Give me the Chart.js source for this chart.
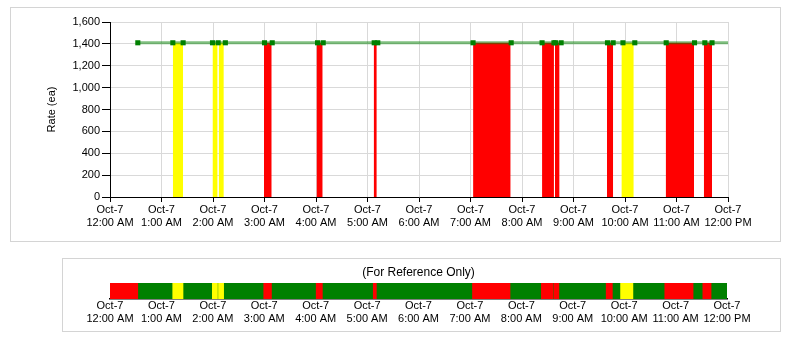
<!DOCTYPE html>
<html>
<head>
<meta charset="utf-8">
<script src="https://cdn.jsdelivr.net/npm/chart.js@4"></script>
<style>
  body { margin: 0; background: #fff; width: 791px; height: 339px; position: relative; overflow: hidden; }
  .panel { position: absolute; border: 1px solid #d4d4d4; background: #fff; }
  #ratePanel { left: 10px; top: 7px; width: 769px; height: 233px; }
  #stripPanel { left: 62px; top: 258px; width: 717px; height: 72px; }
  canvas { display: block; }
</style>
</head>
<body>
<div class="panel" id="ratePanel"><canvas id="rateChart" width="769" height="233"></canvas></div>
<div class="panel" id="stripPanel"><canvas id="stripChart" width="717" height="72"></canvas></div>
<script>
// hour axis, 0 = 12:00 AM
const dayLabel = 'Oct-7';
const hourLabels = ['12:00 AM', '1:00 AM', '2:00 AM', '3:00 AM', '4:00 AM', '5:00 AM', '6:00 AM',
  '7:00 AM', '8:00 AM', '9:00 AM', '10:00 AM', '11:00 AM', '12:00 PM'];
const rateTicks = [0, 200, 400, 600, 800, 1000, 1200, 1400, 1600];

// production rate while running
const rate = 1410;
const runStart = 0.54;
const runEnd = 12;

// logged rate samples
const markerTimes = [0.54, 1.22, 1.42, 1.99, 2.10, 2.24, 3.00, 3.15, 4.03, 4.14, 5.13, 5.20,
  7.05, 7.79, 8.39, 8.62, 8.65, 8.76, 9.66, 9.77, 9.96, 10.19, 10.80, 11.35, 11.55, 11.69];

// stoppages
const stopStart = [1.22, 1.99, 2.11, 2.99, 4.01, 5.12, 7.05, 8.39, 8.64, 9.65, 9.93, 10.79, 11.53];
const stopEnd   = [1.42, 2.09, 2.21, 3.14, 4.13, 5.18, 7.78, 8.62, 8.73, 9.77, 10.17, 11.34, 11.69];
const stopType  = ['idle', 'idle', 'idle', 'down', 'down', 'down', 'down', 'down', 'down', 'down', 'idle', 'down', 'down'];

const stateColor = { run: '#008000', down: '#ff0000', idle: '#ffff00' };

Chart.defaults.font.family = 'Arial, "Liberation Sans", sans-serif';
Chart.defaults.font.size = 11;
Chart.defaults.color = '#000';
Chart.defaults.animation = false;

function hourTick(v) {
  return Number.isInteger(v) ? [dayLabel, hourLabels[v]] : '';
}

// --- rate chart ---
const stopFills = stopStart.map((s, i) => ({
  type: 'line',
  data: [{ x: s, y: rate }, { x: stopEnd[i], y: rate }],
  fill: 'origin',
  backgroundColor: stateColor[stopType[i]],
  borderWidth: 0,
  pointRadius: 0,
  order: 2
}));

new Chart(document.getElementById('rateChart'), {
  type: 'line',
  data: {
    datasets: [
      {
        data: markerTimes.map(t => ({ x: t, y: rate })),
        showLine: false,
        pointStyle: 'rect',
        pointRadius: 3.6,
        backgroundColor: '#008000',
        borderColor: '#008000',
        borderWidth: 0,
        order: 0
      },
      {
        data: [{ x: runStart, y: rate }, { x: runEnd, y: rate }],
        borderColor: 'rgba(0,128,0,0.5)',
        borderWidth: 3,
        pointRadius: 0,
        order: 1
      },
      ...stopFills
    ]
  },
  options: {
    responsive: false,
    layout: { padding: { left: 0, right: 52, top: 14, bottom: 0 } },
    plugins: { legend: { display: false }, tooltip: { enabled: false } },
    scales: {
      x: {
        type: 'linear',
        min: 0,
        max: 12,
        afterFit: s => { s.height = 44; },
        afterBuildTicks: s => { s.ticks = hourLabels.map((_, i) => ({ value: i })); },
        grid: { color: '#d9d9d9', tickColor: '#000', tickLength: 5 },
        border: { color: '#000' },
        ticks: { callback: hourTick, maxRotation: 0, autoSkip: false, padding: 2, font: { lineHeight: 1.15 } }
      },
      y: {
        min: 0,
        max: 1600,
        afterFit: s => { s.width = 99; },
        afterBuildTicks: s => { s.ticks = rateTicks.map(v => ({ value: v })); },
        grid: { color: '#d9d9d9', tickColor: '#000', tickLength: 8 },
        border: { color: '#000' },
        ticks: { callback: v => v.toLocaleString('en-US'), padding: 2 },
        title: { display: true, text: 'Rate (ea)', padding: { top: 34, bottom: 0 } }
      }
    }
  }
});

// --- state strip ---
const stripSets = [
  { data: [[runStart, runEnd]], backgroundColor: stateColor.run },
  { data: [[0, runStart]], backgroundColor: stateColor.down },
  ...stopStart.map((s, i) => ({ data: [[s, stopEnd[i]]], backgroundColor: stateColor[stopType[i]] }))
].map((d, i) => Object.assign(d, {
  grouped: false,
  barPercentage: 1,
  categoryPercentage: 1,
  borderWidth: 0,
  order: -i
}));

new Chart(document.getElementById('stripChart'), {
  type: 'bar',
  data: { labels: ['state'], datasets: stripSets },
  options: {
    responsive: false,
    indexAxis: 'y',
    layout: { padding: { left: 47, right: 53, top: 0, bottom: 0 } },
    plugins: {
      legend: { display: false },
      tooltip: { enabled: false },
      title: {
        display: true,
        text: '(For Reference Only)',
        font: { size: 12, weight: 'normal' },
        color: '#000',
        padding: { top: 6, bottom: 3.6 }
      }
    },
    scales: {
      x: {
        type: 'linear',
        min: 0,
        max: 12,
        afterFit: s => { s.height = 32; },
        afterBuildTicks: s => { s.ticks = hourLabels.map((_, i) => ({ value: i })); },
        grid: { display: false, drawTicks: false },
        border: { color: '#000', width: 1.5 },
        ticks: { callback: hourTick, maxRotation: 0, autoSkip: false, padding: 1, font: { lineHeight: 1.15 } }
      },
      y: { display: false }
    }
  }
});
</script>
</body>
</html>
